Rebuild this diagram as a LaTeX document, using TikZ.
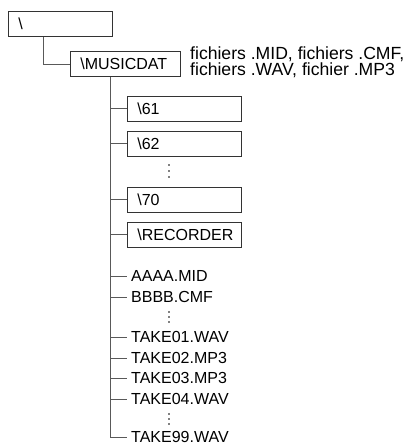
\documentclass[tikz,border=0pt]{standalone}
\usepackage{fontspec}
\setmainfont{Liberation Sans}
\begin{document}
\begin{tikzpicture}[x=1pt,y=-1pt,
  tline/.style={draw=black!65,line width=1pt},
  dirbox/.style={draw=black!80,line width=0.8pt,rectangle,minimum height=25pt,text width=#1,inner xsep=10pt,inner ysep=0pt,align=left,anchor=west,font=\fontsize{16}{17}\selectfont},
  fname/.style={anchor=west,inner sep=0pt,font=\fontsize{16}{17}\selectfont},
  vdot/.style={fill=black,circle,inner sep=0pt,minimum size=1.8pt}]
\useasboundingbox (0,0) rectangle (420,445);
% boxes
\node[dirbox=84pt] (root) at (8,24) {\textbackslash};
\node[dirbox=90pt] (mus) at (70,64) {\textbackslash MUSICDAT};
\node[anchor=west,align=left,inner sep=0pt,font=\fontsize{17.6}{16.5}\selectfont] (desc) at (190,62) {fichiers .MID, fichiers .CMF,\\fichiers .WAV, fichier .MP3};
\node[dirbox=94pt] (d61) at (127,108.5) {\textbackslash 61};
\node[dirbox=94pt] (d62) at (127,143.5) {\textbackslash 62};
\node[dirbox=94pt] (d70) at (127,199.5) {\textbackslash 70};
\node[dirbox=94pt] (drec) at (127,234.5) {\textbackslash RECORDER};
\node[fname] (f1) at (131,276) {AAAA.MID};
\node[fname] (f2) at (131,297) {BBBB.CMF};
\node[fname] (f3) at (131,337) {TAKE01.WAV};
\node[fname] (f4) at (131,358) {TAKE02.MP3};
\node[fname] (f5) at (131,378) {TAKE03.MP3};
\node[fname] (f6) at (131,399) {TAKE04.WAV};
\node[fname] (f7) at (131,437) {TAKE99.WAV};
% dots
\foreach \y [count=\i] in {165,171,177}{\node[vdot] (da\i) at (169,\y) {};}
\foreach \y [count=\i] in {312,317,322}{\node[vdot] (db\i) at (169,\y) {};}
\foreach \y [count=\i] in {414,419,424}{\node[vdot] (dc\i) at (169,\y) {};}
% connectors
\coordinate (rt) at ([xshift=35pt]root.south west);
\draw[tline] (rt) |- (mus.west);
\coordinate (mt) at ([xshift=40pt]mus.south west);
\coordinate (tbot) at (mt |- f7.west);
\draw[tline] (mt) -- (tbot) -- ([xshift=-4pt]f7.west);
\foreach \n in {d61,d62,d70,drec}{\draw[tline] (mt |- \n.west) -- (\n.west);}
\foreach \n in {f1,f2,f3,f4,f5,f6}{\draw[tline] (mt |- \n.west) -- ([xshift=-4pt]\n.west);}
\end{tikzpicture}
\end{document}
